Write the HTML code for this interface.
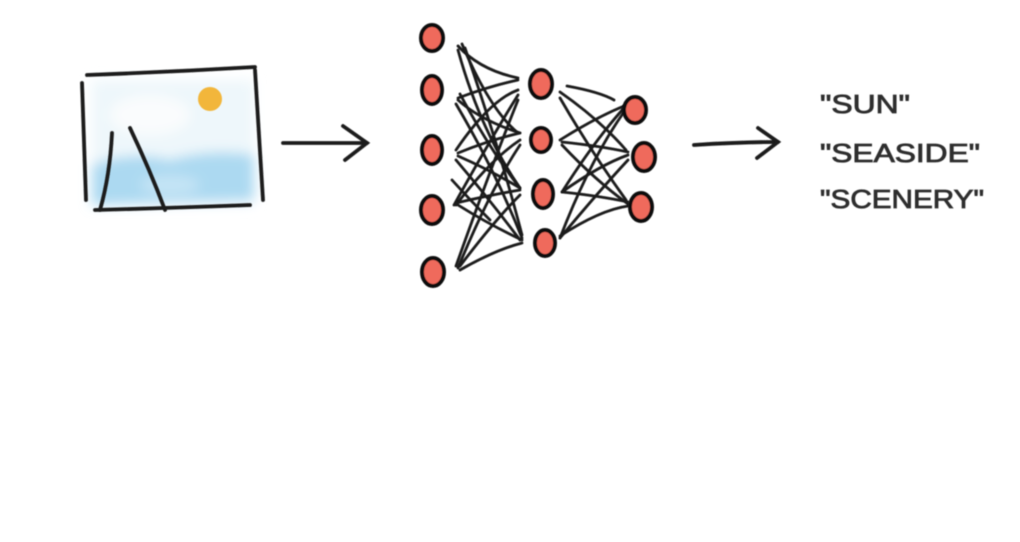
<!DOCTYPE html>
<html><head><meta charset="utf-8"><style>
html,body{margin:0;padding:0;background:#fff;}
svg{display:block}
</style></head><body>
<svg width="1020" height="542" viewBox="0 0 1020 542" xmlns="http://www.w3.org/2000/svg">
<defs>
<filter id="blur" x="-20%" y="-20%" width="140%" height="140%"><feGaussianBlur stdDeviation="6"/></filter>
<filter id="b1"><feGaussianBlur stdDeviation="0.6"/></filter>
</defs>
<rect width="1020" height="542" fill="#fff"/>
<!-- picture -->
<g filter="url(#blur)">
<rect x="92" y="80" width="162" height="125" fill="#eef7fb"/>
<path d="M92 165 Q130 150 170 160 Q210 148 254 155 L254 200 L92 205 Z" fill="#acd9f1"/>
<ellipse cx="150" cy="115" rx="40" ry="20" fill="#fafcfd"/>
<ellipse cx="170" cy="185" rx="30" ry="10" fill="#c4e4f5"/>
</g>
<circle cx="210" cy="99" r="12" fill="#f2b63a" filter="url(#b1)"/>
<g stroke="#1a1a1a" stroke-width="3.8" stroke-linecap="round" fill="none" filter="url(#b1)">
<path d="M87 75 Q170 72 255 67"/>
<path d="M82 83 Q84 140 86 200"/>
<path d="M255 70 Q259 135 263 200"/>
<path d="M95 210 Q170 208 250 205"/>
<path d="M112 133 Q110 175 100 210"/>
<path d="M130 128 Q150 170 165 210"/>
<!-- arrows -->
<path d="M283 143 L367 143"/>
<path d="M343 126 L367 143 L345 160"/>
<path d="M694 145 Q740 142 778 142"/>
<path d="M758 128 L778 142 L757 158"/>
</g>
<!-- connections -->
<g stroke="#1a1a1a" stroke-width="2.8" stroke-linecap="round" fill="none" filter="url(#b1)">
<path d="M458 46 Q480 70 518 78"/>
<path d="M462 44 Q490 110 518 133"/>
<path d="M458 50 Q480 130 520 188"/>
<path d="M465 48 Q500 150 522 235"/>
<path d="M458 98 Q490 86 518 80"/>
<path d="M458 100 Q480 120 520 133"/>
<path d="M460 94 Q490 150 520 188"/>
<path d="M456 104 Q495 170 522 238"/>
<path d="M456 150 Q490 100 518 90"/>
<path d="M458 153 Q490 140 520 133"/>
<path d="M458 156 Q490 170 520 188"/>
<path d="M456 160 Q490 200 520 240"/>
<path d="M454 205 Q490 140 518 95"/>
<path d="M456 205 Q490 160 520 140"/>
<path d="M456 203 Q490 195 520 190"/>
<path d="M458 205 Q490 225 522 240"/>
<path d="M456 266 Q490 170 518 100"/>
<path d="M458 268 Q490 190 520 145"/>
<path d="M460 266 Q495 220 520 195"/>
<path d="M460 270 Q495 250 522 243"/>
<path d="M452 180 Q470 200 490 220"/>
<path d="M567 86 Q600 92 614 100"/>
<path d="M560 92 Q600 120 626 150"/>
<path d="M560 98 Q590 150 626 200"/>
<path d="M560 140 Q595 118 624 106"/>
<path d="M562 142 Q600 146 628 152"/>
<path d="M562 145 Q595 180 628 204"/>
<path d="M562 192 Q595 140 624 108"/>
<path d="M562 192 Q600 165 628 155"/>
<path d="M562 192 Q600 196 628 202"/>
<path d="M560 238 Q590 160 624 112"/>
<path d="M560 238 Q600 190 628 160"/>
<path d="M560 236 Q600 210 628 206"/>
</g>
<!-- nodes -->
<g fill="#ef6a5c" stroke="#111" stroke-width="4" filter="url(#b1)">
<ellipse cx="432" cy="38" rx="11" ry="13"/>
<ellipse cx="432" cy="90" rx="10" ry="14"/>
<ellipse cx="432" cy="150" rx="10" ry="14"/>
<ellipse cx="432" cy="210" rx="11" ry="14"/>
<ellipse cx="433" cy="272" rx="11" ry="14"/>
<ellipse cx="541" cy="84" rx="11" ry="14"/>
<ellipse cx="541" cy="140" rx="10" ry="12"/>
<ellipse cx="543" cy="194" rx="10" ry="14"/>
<ellipse cx="545" cy="243" rx="10" ry="13"/>
<ellipse cx="635" cy="110" rx="11" ry="13"/>
<ellipse cx="644" cy="157" rx="11" ry="14"/>
<ellipse cx="641" cy="207" rx="11" ry="14"/>
</g>
<g font-family="Liberation Sans, sans-serif" font-size="26" fill="#2d2d2d" stroke="#2d2d2d" stroke-width="0.8" filter="url(#b1)">
<text x="820" y="113" textLength="90" lengthAdjust="spacingAndGlyphs">"SUN"</text>
<text x="820" y="162" textLength="160" lengthAdjust="spacingAndGlyphs">"SEASIDE"</text>
<text x="820" y="208" textLength="164" lengthAdjust="spacingAndGlyphs">"SCENERY"</text>
</g>
</svg>
</body></html>
